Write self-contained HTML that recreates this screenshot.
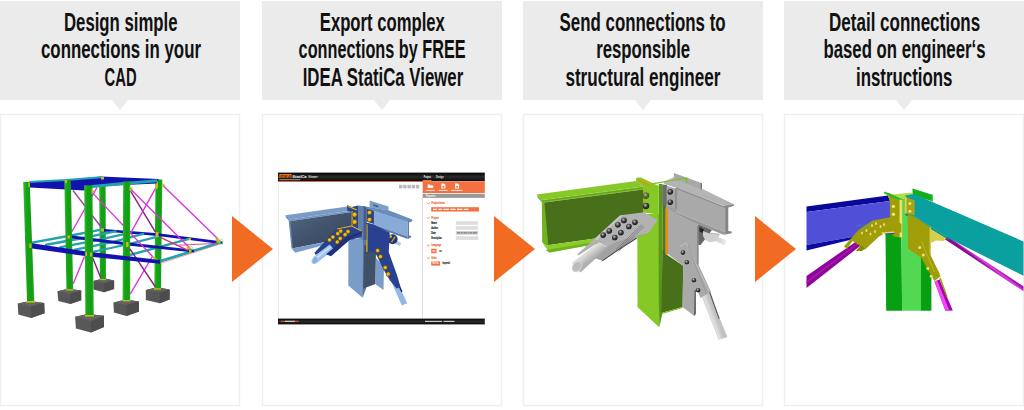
<!DOCTYPE html>
<html><head><meta charset="utf-8">
<style>
html,body{margin:0;padding:0;background:#fff;}
body{width:1024px;height:410px;overflow:hidden;font-family:"Liberation Sans",sans-serif;}
svg{display:block}
.h{font-family:"Liberation Sans",sans-serif;font-weight:bold;font-size:25px;fill:#111;text-anchor:start}
</style></head><body>
<svg width="1024" height="410" viewBox="0 0 1024 410">
<rect width="1024" height="410" fill="#fff"/>
<!-- headers -->
<g fill="#ebebeb">
<path d="M0 1H240V100H128L120 110L112 100H0Z"/>
<path d="M262 1H502V100H390L382 110L374 100H262Z"/>
<path d="M523 1H763V100H651L643 110L635 100H523Z"/>
<path d="M784 1H1024V100H912L904 110L896 100H784Z"/>
</g>
<!-- panels -->
<g fill="#fff" stroke="#efefef" stroke-width="1.5">
<rect x="0.5" y="114.5" width="239" height="291"/>
<rect x="262.5" y="114.5" width="239" height="291"/>
<rect x="523.5" y="114.5" width="239" height="291"/>
<rect x="784.5" y="114.5" width="239" height="291"/>
</g>
<!-- header text -->
<g class="h" lengthAdjust="spacingAndGlyphs">
<text x="64" y="31" textLength="113.5" lengthAdjust="spacingAndGlyphs">Design simple</text>
<text x="41" y="58" textLength="160" lengthAdjust="spacingAndGlyphs">connections in your</text>
<text x="104.6" y="86.3" textLength="32" lengthAdjust="spacingAndGlyphs">CAD</text>
<text x="319.8" y="31" textLength="125" lengthAdjust="spacingAndGlyphs">Export complex</text>
<text x="298.6" y="58" textLength="167" lengthAdjust="spacingAndGlyphs">connections by FREE</text>
<text x="302.7" y="86.3" textLength="160.5" lengthAdjust="spacingAndGlyphs">IDEA StatiCa Viewer</text>
<text x="559.6" y="31" textLength="166" lengthAdjust="spacingAndGlyphs">Send connections to</text>
<text x="596.2" y="58" textLength="94" lengthAdjust="spacingAndGlyphs">responsible</text>
<text x="565.4" y="86.3" textLength="155" lengthAdjust="spacingAndGlyphs">structural engineer</text>
<text x="829.1" y="31" textLength="151" lengthAdjust="spacingAndGlyphs">Detail connections</text>
<text x="823.5" y="58" textLength="162" lengthAdjust="spacingAndGlyphs">based on engineer‘s</text>
<text x="856" y="86.3" textLength="96.5" lengthAdjust="spacingAndGlyphs">instructions</text>
</g>
<!--P1S--><g id="p1">
<defs>
<linearGradient id="gcol" x1="0" x2="1" y1="0" y2="0">
<stop offset="0" stop-color="#35c035"/><stop offset="0.3" stop-color="#16a316"/><stop offset="0.75" stop-color="#169c16"/><stop offset="1" stop-color="#1db41d"/>
</linearGradient>
</defs>
<!-- back footings D,F,B,E -->
<g>
<path d="M93.4 281L103.8 278.3L114.1 280.5L114.1 289L103.8 292.3L93.4 289.5Z" fill="#555"/>
<path d="M93.4 281L103.8 278.3L114.1 280.5L103.8 283.5Z" fill="#606060"/>
<path d="M103.8 283.5L114.1 280.5L114.1 289L103.8 292.3Z" fill="#4c4c4c"/>
<path d="M145.8 290L157 287.3L169.6 289.5L169.6 299.5L159.8 303.3L145.8 300Z" fill="#565656"/>
<path d="M145.8 290L157 287.3L169.6 289.5L159.8 292.5Z" fill="#616161"/>
<path d="M159.8 292.5L169.6 289.5L169.6 299.5L159.8 303.3Z" fill="#4c4c4c"/>
</g>
<!-- back columns D,F -->
<path d="M99.1 177.3L105.6 177.3L106 280L99.9 280Z" fill="url(#gcol)"/>
<path d="M155.5 179.5L162.3 179.5L161 289.5L154.3 289.5Z" fill="url(#gcol)"/>
<!-- floor: back beam -->
<path d="M104 229L158 233.3L222.5 241.4L222.5 244.2L158 236L104 231.6Z" fill="#1212ae"/>
<!-- joists cyan -->
<g stroke="#22a2aa" stroke-width="2.3" fill="none">
<path d="M32 242.6L68.4 236L101.3 229.7"/>
<path d="M45 245L83 238L116.4 231.2"/>
<path d="M59.5 247.3L97.7 240.2L130.3 232.6"/>
<path d="M74 249.8L112.4 242.2L144.1 233.6"/>
<path d="M92 252L127 244.5L158.6 236.4"/>
<path d="M124.4 256.5L189.1 238.8" stroke-width="2.4"/>
<path d="M160.5 261.2L221 242.4" stroke-width="2.8"/>
</g>
<!-- mid beam -->
<path d="M68 235L128 242.5L194 249.8L194 252.6L128 245.4L68 238Z" fill="#1212ae"/>
<!-- back braces -->
<g stroke-width="1.35" fill="none">
<path d="M73 190.5L101.5 227.5" stroke="#a838a8"/>
<path d="M97 187.5L71.4 232.5" stroke="#e030e0"/>
<path d="M130.5 190.8L156.2 233.3" stroke="#8a1a80"/>
<path d="M155.5 188.3L130.5 233.3" stroke="#e030e0"/>
<path d="M163.5 185.9L218 239" stroke="#e030e0"/>
<path d="M161 237.6L188 250.4" stroke="#e0306a"/>
<path d="M176 245.3L217.5 243.4" stroke="#d838a8" stroke-width="0.9"/>
<path d="M160.5 263.5L220 244" stroke="#f08a8a" stroke-width="0.7"/>
<path d="M92.2 192.6L153.7 257.7" stroke="#e030e0"/>
</g>
<!-- top slab -->
<path d="M29 182L66 180.3L101 176.6L158.6 179L157.6 183.6L124 185L92 187L84.2 190.6L29.7 187.5Z" fill="#1212ae"/>
<g stroke="#22a2aa" fill="none">
<path d="M29.3 182L66 180L101 177.3" stroke-width="1.9"/>
<path d="M92 186.6L124 183.4L157.4 180.8" stroke-width="3"/>
</g>
<!-- back mid columns B,E with footings -->
<path d="M57.4 291.2L68.4 288.7L81.2 290.5L81.2 300.3L70.2 304L58.3 300.9Z" fill="#575757"/>
<path d="M57.4 291.2L68.4 288.7L81.2 290.5L70.2 294Z" fill="#626262"/>
<path d="M70.2 294L81.2 290.5L81.2 300.3L70.2 304Z" fill="#4d4d4d"/>
<path d="M64.3 180L70.8 180L73.2 290.5L66.5 290.5Z" fill="url(#gcol)"/>
<path d="M113.4 302.5L126 299.5L139 301.5L139 311.5L126.5 316L113.9 312.5Z" fill="#575757"/>
<path d="M113.4 302.5L126 299.5L139 301.5L126.5 305Z" fill="#626262"/>
<path d="M126.5 305L139 301.5L139 311.5L126.5 316Z" fill="#4d4d4d"/>
<path d="M123.2 181.6L130.2 181.6L130.2 301L122.6 301Z" fill="url(#gcol)"/>
<!-- mid braces -->
<g stroke-width="1.35" fill="none">
<path d="M130.5 189L190.3 248.6" stroke="#e030e0"/>
<path d="M84.5 256.5L73.2 283.8" stroke="#e030e0"/>
<path d="M92.8 258L100.7 277.7" stroke="#8a1a80"/>
<path d="M152 257L130.2 294.2" stroke="#e030e0"/>
<path d="M130 249L155.5 287" stroke="#8a1a80"/>
</g>
<!-- front beam floor -->
<path d="M30.5 243L88.5 251.8L160 260L160 263.8L88.5 256.6L30.5 248.2Z" fill="#1212ae"/>
<!-- front columns A,C with footings -->
<path d="M17.7 303.5L29.9 300.9L44.2 302.9L44.6 313.3L31.1 318L18.3 314.5Z" fill="#585858"/>
<path d="M17.7 303.5L29.9 300.9L44.2 302.9L31.1 306.6Z" fill="#636363"/>
<path d="M31.1 306.6L44.2 302.9L44.6 313.3L31.1 318Z" fill="#4e4e4e"/>
<path d="M23.2 182L29.7 182L34.4 302.8L27.1 302.8Z" fill="url(#gcol)"/>
<path d="M75.1 316.7L87.9 313.9L104 315.8L104 327L90.9 332.6L75.9 328.6Z" fill="#585858"/>
<path d="M75.1 316.7L87.9 313.9L104 315.8L90.9 321.2Z" fill="#636363"/>
<path d="M90.9 321.2L104 315.8L104 327L90.9 332.6Z" fill="#4e4e4e"/>
<path d="M84.2 185.3L92.4 185.3L93.75 316.6L85.4 316.6Z" fill="url(#gcol)"/>
<g fill="none" stroke="#58e058" stroke-width="0.5"><circle cx="220.5" cy="241.5" r="2.6"/><circle cx="190.5" cy="248.5" r="2.2"/><circle cx="163.5" cy="185.5" r="1.6"/><circle cx="131" cy="188.5" r="1.6"/></g>
<!-- gussets -->
<g fill="#c9b91e">
<rect x="28.3" y="182.5" width="1.6" height="4.5"/><rect x="65" y="180" width="2" height="3"/><rect x="101" y="177" width="3" height="2.5"/>
<path d="M91.5 189L94.5 191.5L91.5 194Z"/><path d="M129.8 186.5L132.5 188.5L129.8 191Z"/><path d="M155.8 184L158 181L158 188L155.5 190Z"/><path d="M162.3 183L165 185.5L162.3 187Z"/>
<rect x="29.3" y="243.5" width="2" height="4.5"/><rect x="67.5" y="235.5" width="2.5" height="3"/><rect x="101" y="228.5" width="3" height="3"/>
<rect x="85.5" y="252" width="1.5" height="4"/><rect x="90" y="252.5" width="2" height="4"/><rect x="126" y="242" width="2.5" height="5"/><rect x="155.5" y="232" width="3" height="5"/>
<path d="M152 256L158.5 259.5L153.5 259Z"/><path d="M186.5 245.5L192 249L187.5 249.5Z"/><path d="M215.5 237L221 240.8L219.5 243L216 241.5Z"/><rect x="188.5" y="237.8" width="2.4" height="2.2"/><path d="M186.5 245.5L192 249L187.5 249.5Z"/><rect x="189" y="250" width="2.5" height="2.6"/>
<rect x="26" y="301" width="9" height="1.6"/><rect x="85" y="315" width="9" height="1.6"/><rect x="66" y="289.3" width="7.5" height="1.3"/><rect x="122.5" y="300" width="8" height="1.4"/><rect x="100" y="279" width="6" height="1.2"/><rect x="154" y="288.3" width="7" height="1.3"/>
</g>
</g>
<!--P1E-->
<!--P2S--><g id="p2">
<defs>
<linearGradient id="gbar" x1="0" x2="0" y1="0" y2="1"><stop offset="0" stop-color="#050505"/><stop offset="0.5" stop-color="#2a2a2a"/><stop offset="1" stop-color="#0a0a0a"/></linearGradient>
<radialGradient id="gbolt" cx="0.4" cy="0.35" r="0.7"><stop offset="0" stop-color="#f5cf2a"/><stop offset="0.6" stop-color="#dcaa0c"/><stop offset="1" stop-color="#6b5208"/></radialGradient>
<linearGradient id="gtube" x1="0" x2="0" y1="0" y2="1"><stop offset="0" stop-color="#8db2df"/><stop offset="0.4" stop-color="#c2dbf6"/><stop offset="1" stop-color="#86abd9"/></linearGradient>
<linearGradient id="gweb2" x1="0" y1="0" x2="1" y2="1"><stop offset="0" stop-color="#52667f"/><stop offset="0.6" stop-color="#3e4f68"/><stop offset="1" stop-color="#37465d"/></linearGradient>
</defs>
<!-- window -->
<rect x="278" y="172.6" width="206.8" height="151.8" fill="#fff"/>
<rect x="278.2" y="181" width="0.8" height="138" fill="#e4e4e4"/>
<!-- right tube top (behind plate) -->
<path d="M396.6 240.8L401.2 243L399.8 246L395.4 244Z" fill="#a6c8ee"/>
<circle cx="392.6" cy="239.2" r="5" fill="#22357e"/>
<path d="M394.6 236.2L395.7 236.9L392 242.6L390.9 241.9Z" fill="#d8ab10"/>
<circle cx="390.4" cy="236.4" r="1.6" fill="#d8ab10"/>
<!-- model: back stub + right beam -->
<!-- right beam top flange -->
<path d="M363.5 206L365.4 206.6L388.5 210.2L412.3 219.4L412.3 220.6L407.7 222.3L373.3 210.9L363.5 208.5Z" fill="#6b8dbb"/>
<path d="M369.6 200.5L388.5 206.6L388.5 210.6L369.6 207.4Z" fill="#7d9ecb"/>
<path d="M373.3 204.2L378.2 205.8L378.2 207.4L373.3 205.8Z" fill="#42567a"/>
<!-- right beam web -->
<path d="M373.3 210.9L407.7 221.6L407.7 236.5L373.3 224.3Z" fill="#88aad7"/>
<path d="M407.7 221.6L412.3 220.2L412.3 221.2L409 222.6L409 235.3L411.1 236L411.1 237.6L407.7 238.9Z" fill="#5d7eab"/>
<!-- bottom flange right beam -->
<path d="M365.4 222.4L373.3 224.3L407.7 236.5L407.7 238.9L373.3 226.5L365.4 224.6Z" fill="#5f80ad"/>
<!-- column -->
<path d="M348.4 239L364.2 238L363.3 288.5L362.7 297.7L348.3 285.5Z" fill="#7a9cc9"/>
<path d="M363.2 206L366.2 207L366.2 288L362.7 297.7Z" fill="#5d7799"/>
<path d="M364.3 245L376 248L375.5 283.9L363.3 288.6Z" fill="#3f5069"/>
<path d="M375.9 258L384 266L383.5 290L375.5 284.2Z" fill="#7a9cc9"/>
<!-- right tube bottom -->
<path d="M389.5 277.5L394.5 276L407.3 303.2L401.8 305.6Z" fill="#93b8e6"/>
<path d="M394.8 278.5L396.4 278L402.5 291.5L401.3 292.2Z" fill="#16225e"/>
<!-- right gusset plate -->
<path d="M366.1 222.5L373.4 224.5L389.7 232.5L389.7 236L388.7 252L397 275L400.5 287L396.5 288.5L389.7 280L383.5 269.6L377 256L374.2 252L366.1 252.2Z" fill="#2a4090"/>
<path d="M366.2 224L367.6 224.3L367.6 252L366.2 251.8Z" fill="#d9ac12"/>
<!-- column top flange strip & plates -->
<path d="M358 205.5L363.5 206.2L363.5 240L358 238Z" fill="#6081af"/>
<path d="M363.5 206.2L366.6 207.5L366.6 240L363.5 240Z" fill="#465e85"/>
<path d="M366.6 208.7L373.9 210.9L373.9 224L366.6 221.6Z" fill="#2a4090"/>
<!-- left beam -->
<path d="M285.4 215.3L347.4 206.5L351.6 208L351.4 210.4L289.3 219.6Z" fill="#7a9bc8"/>
<path d="M285.4 215.3L289.3 219.6L289.3 221.2L285.9 217.2Z" fill="#5a7aa6"/>
<path d="M289.3 219.6L351.4 210.4L351.4 212L289.3 221.2Z" fill="#7393c0"/>
<path d="M289.3 221.2L351.8 212L351.8 236L325.2 242.1L292 248.4Z" fill="url(#gweb2)"/>
<path d="M288.7 220.6L290.3 221L292.8 247.6L291.4 247.6Z" fill="#6a89b4"/>
<path d="M288.9 245.4L292 248.4L325.5 242L330 243.5L295.3 252.8Z" fill="#7c9dcb"/>
<!-- end plate -->
<path d="M347.2 205L351.8 207L358 205.5L358 238L351.8 236.5L351.8 212L347.2 210.5Z" fill="#2b4494"/>
<path d="M348.4 205.8L356.8 209.3L356.6 210.5L348.2 207Z" fill="#e2b614"/>
<rect x="351.7" y="211" width="1" height="14.5" fill="#d9ac12"/>
<!-- left gusset upper plate -->
<path d="M336.9 228.6L351.8 226L361.8 231L361.8 236.5L352.5 239.5L345 240L333 249L328.6 246L315.9 255L314.4 252.8Z" fill="#2a4090"/>
<!-- left tube -->
<path d="M312.8 257.6L329.5 244.5L333.8 249.3L317 263Z" fill="#9dc1eb"/>
<path d="M313.5 258.8L330.5 245.8L331.8 247L315 260.6Z" fill="#c4dcf6"/>
<ellipse cx="314.9" cy="260.4" rx="2.9" ry="3.9" fill="#9fc2ec" transform="rotate(38 314.9 260.4)"/>
<ellipse cx="315.1" cy="260.3" rx="1.9" ry="2.8" fill="#86abd9" transform="rotate(38 315.1 260.3)"/>
<!-- lower plate -->
<path d="M326.1 254.3L347 236.5L352.5 235L361.8 231.5L361.8 233.5L352.5 237.5L331 256.3Z" fill="#1f3178"/>
<path d="M336.9 228.4L351.8 225.4L351.9 226.6L337 229.6Z" fill="#e2b614"/>
<path d="M351.8 225.4L361.3 230.2L360.9 231.3L351.6 226.6Z" fill="#e2b614"/>
<g fill="url(#gbolt)" stroke="#4a3a08" stroke-width="0.45">
<circle cx="354.7" cy="214.8" r="2.6"/><circle cx="354.7" cy="222.1" r="2.6"/>
<circle cx="369.6" cy="212.8" r="2.4"/><circle cx="369.6" cy="219.8" r="2.4"/>
<circle cx="340.8" cy="231.3" r="2.2"/><circle cx="348.1" cy="231.8" r="2.2"/><circle cx="337.9" cy="233.8" r="2.2"/><circle cx="345.2" cy="234.8" r="2.2"/>
<circle cx="333" cy="237.2" r="2.2"/><circle cx="340.3" cy="238.7" r="2.2"/><circle cx="329.6" cy="240.1" r="2.2"/><circle cx="337.4" cy="242.1" r="2.2"/>
<circle cx="377.8" cy="250.8" r="2.2"/><circle cx="380.6" cy="256.8" r="2.2"/><circle cx="385.3" cy="267.8" r="2.2"/><circle cx="388.3" cy="274.2" r="2.2"/>
</g>
<!-- view buttons -->
<g fill="#b9b9b9"><rect x="399" y="184.8" width="3.4" height="3.6"/><rect x="403.2" y="184.8" width="3.4" height="3.6"/><rect x="407.4" y="184.8" width="3.4" height="3.6"/><rect x="411.6" y="184.8" width="3.4" height="3.6"/><rect x="415.8" y="184.8" width="3.4" height="3.6"/></g>
<!-- title bar -->
<rect x="278" y="172.6" width="206.8" height="8.6" fill="url(#gbar)"/>
<rect x="278" y="181" width="145" height="0.8" fill="#d9532a"/>
<g font-family="Liberation Sans, sans-serif" font-weight="bold">
<rect x="279.3" y="174" width="12.2" height="4" fill="#e8720f"/>
<text transform="translate(280 177.5) scale(0.1)" font-size="42" fill="#5a2a00" font-style="italic" textLength="110" lengthAdjust="spacingAndGlyphs">IDEA</text>
<text transform="translate(292.3 177.6) scale(0.1)" font-size="42" fill="#f2f2f2" font-style="italic" textLength="144" lengthAdjust="spacingAndGlyphs">StatiCa</text>
<text transform="translate(308.2 177.6) scale(0.1)" font-size="33" fill="#e0e0e0" font-style="italic" textLength="94" lengthAdjust="spacingAndGlyphs">Viewer</text>
<rect x="279.3" y="179.3" width="21" height="0.9" fill="#c8c8c8" opacity="0.85"/>
<text transform="translate(423.7 178.4) scale(0.1)" font-size="27" fill="#ffffff" textLength="72" lengthAdjust="spacingAndGlyphs">Project</text>
<text transform="translate(436 178.4) scale(0.1)" font-size="27" fill="#eeeeee" textLength="76" lengthAdjust="spacingAndGlyphs">Design</text>
</g>
<rect x="422.9" y="180" width="8.6" height="1.6" fill="#f47040"/>
<!-- side panel -->
<rect x="422.2" y="181.4" width="0.8" height="137.3" fill="#d8d8d8"/>
<rect x="422.9" y="181.4" width="61.9" height="11.7" fill="#f47040"/>
<g fill="#fff">
<path d="M427.7 184.6H430L430.6 185.4H433.2V188.1H427.7Z"/>
<path d="M441.4 183.4H444L445.4 184.8V188.4H441.4Z"/>
<path d="M455.1 183.4H457.7L459.1 184.8V188.4H455.1Z"/>
</g>
<g fill="#f47040"><rect x="442.4" y="186" width="2" height="1.6"/><rect x="456.1" y="186" width="2" height="1.6"/></g>
<g font-family="Liberation Sans, sans-serif" font-weight="bold" fill="#fff">
<rect x="425.9" y="189.9" width="9" height="1" opacity="0.85"/>
<rect x="438.7" y="189.9" width="8.9" height="1" opacity="0.85"/>
<rect x="451" y="189.9" width="11.5" height="1" opacity="0.85"/>
</g>
<rect x="422.9" y="193.9" width="61.9" height="4" fill="#9a9a9a"/>
<g font-family="Liberation Sans, sans-serif" font-weight="bold">
<text transform="translate(426 196.9) scale(0.1)" font-size="27" fill="#fff" textLength="97" lengthAdjust="spacingAndGlyphs">Properties</text>
<g fill="#f26a3a" stroke="#f26a3a" stroke-width="1.6">
<text transform="translate(431.4 204.2) scale(0.1)" font-size="28" textLength="134" lengthAdjust="spacingAndGlyphs">Project items</text>
<text transform="translate(431.4 219.1) scale(0.1)" font-size="28" textLength="74" lengthAdjust="spacingAndGlyphs">Project</text>
<text transform="translate(431.4 246.4) scale(0.1)" font-size="28" textLength="98" lengthAdjust="spacingAndGlyphs">Language</text>
<text transform="translate(431.4 259.1) scale(0.1)" font-size="28" textLength="53" lengthAdjust="spacingAndGlyphs">Units</text>
</g>
<g fill="#222" stroke="#222" stroke-width="1.4">
<text transform="translate(431.2 224) scale(0.1)" font-size="27" textLength="56" lengthAdjust="spacingAndGlyphs">Name</text>
<text transform="translate(431.2 228.9) scale(0.1)" font-size="27" textLength="68" lengthAdjust="spacingAndGlyphs">Author</text>
<text transform="translate(431.2 233.8) scale(0.1)" font-size="27" textLength="46" lengthAdjust="spacingAndGlyphs">Date</text>
<text transform="translate(431.2 238.7) scale(0.1)" font-size="27" textLength="106" lengthAdjust="spacingAndGlyphs">Description</text>
<text transform="translate(439.2 252) scale(0.1)" font-size="27" fill="#444" textLength="24" lengthAdjust="spacingAndGlyphs">cz</text>
<text transform="translate(442.4 264.4) scale(0.1)" font-size="27" fill="#444" textLength="76" lengthAdjust="spacingAndGlyphs">Imperial</text>
</g>
</g>
<g fill="none" stroke="#f47040" stroke-width="0.7">
<path d="M427 202.4L428.3 204L429.6 202.4"/><path d="M427 217.3L428.3 218.9L429.6 217.3"/><path d="M427 244.7L428.3 246.3L429.6 244.7"/><path d="M427 257.4L428.3 259L429.6 257.4"/>
</g>
<g fill="#f47040">
<rect x="431.2" y="207.2" width="47.8" height="4.3"/>
<rect x="431.2" y="248.8" width="5.3" height="4.4"/>
<rect x="431.2" y="261.4" width="8.8" height="4.2"/>
</g>
<g font-family="Liberation Sans, sans-serif" font-weight="bold" fill="#fff">
<g opacity="0.9"><rect x="433" y="208.7" width="4" height="1.3"/><rect x="438.2" y="208.7" width="4" height="1.3"/><rect x="443.4" y="208.7" width="5.5" height="1.3"/><rect x="450.2" y="208.7" width="5.5" height="1.3"/><rect x="457" y="208.7" width="5.5" height="1.3"/><rect x="463.8" y="208.7" width="4.7" height="1.3"/></g>
<text transform="translate(432.4 251.9) scale(0.1)" font-size="27" textLength="29" lengthAdjust="spacingAndGlyphs">en</text>
<text transform="translate(432.6 264.3) scale(0.1)" font-size="27" textLength="60" lengthAdjust="spacingAndGlyphs">Metric</text>
</g>
<g fill="#dedede"><rect x="455.8" y="221.2" width="22.4" height="3.7"/><rect x="455.8" y="226.1" width="22.4" height="3.7"/><rect x="455.8" y="231" width="22.4" height="3.7" fill="#cfcfcf"/><rect x="455.8" y="236.2" width="22.4" height="3.7"/></g>
<g fill="#888"><rect x="457" y="232.1" width="3.2" height="1.5"/><rect x="460.8" y="232.1" width="2" height="1.5"/><rect x="463.4" y="232.1" width="3.4" height="1.5"/><rect x="467.4" y="232.1" width="2" height="1.5"/><rect x="470" y="232.1" width="2" height="1.5"/><rect x="472.6" y="232.1" width="4.4" height="1.5"/></g>
<!-- bottom bar -->
<rect x="278" y="318.6" width="206.8" height="5.8" fill="url(#gbar)"/>
<g font-family="Liberation Sans, sans-serif" font-weight="bold">
<rect x="280.5" y="320.7" width="4.5" height="1.2" fill="#d8581f"/><rect x="285" y="320.7" width="10" height="1.2" fill="#ddd"/><rect x="295" y="320.7" width="3.8" height="1.2" fill="#d8581f"/>
<rect x="425" y="320.8" width="17" height="1.2" fill="#ccc"/><rect x="443.5" y="320.8" width="11" height="1.2" fill="#ccc"/>
</g>
</g>
<!--P2E-->
<!--P3S--><g id="p3">
<defs>
<radialGradient id="gbolt3" cx="0.4" cy="0.35" r="0.75"><stop offset="0" stop-color="#bdbdbd"/><stop offset="0.45" stop-color="#3a3a3a"/><stop offset="0.8" stop-color="#1e1e1e"/><stop offset="1" stop-color="#8a8a8a"/></radialGradient>
<linearGradient id="gtube3" gradientUnits="userSpaceOnUse" x1="585" y1="248" x2="593" y2="258"><stop offset="0" stop-color="#c2c2c2"/><stop offset="0.4" stop-color="#dedede"/><stop offset="1" stop-color="#b0b0b0"/></linearGradient>
<linearGradient id="gtube3b" gradientUnits="userSpaceOnUse" x1="708" y1="320" x2="716" y2="317"><stop offset="0" stop-color="#c4c4c4"/><stop offset="0.5" stop-color="#e0e0e0"/><stop offset="1" stop-color="#c2c2c2"/></linearGradient>
</defs>
<!-- lug & tube end under right beam -->
<path d="M698 224L712 230L706 238L700.5 245L698 245Z" fill="#666"/>
<path d="M699.5 227L704 229.5L702.5 233L699.5 231.5Z" fill="#222"/>
<path d="M714 235.5L725.5 240.2L723.8 244.6L712.5 240Z" fill="#d8d8d8"/>
<ellipse cx="723.6" cy="242.2" rx="2.2" ry="2.9" fill="#e6e6e6" transform="rotate(22 723.6 242.2)"/>
<path d="M703 231L709.5 233.5L719.5 234.5C719 239.5 714 242.8 709.5 242C706.5 241.5 704.5 239 703 236Z" fill="#cfcfcf"/>
<path d="M709 233.2L719.8 234.2" stroke="#8a8a8a" stroke-width="0.6"/>
<!-- right beam -->
<path d="M664.2 181.5L673.9 177.2L702 188.8L733.9 204.2L733.9 205.6L727.6 207.3L676 187.8L664.2 184Z" fill="#b4b4b4"/>
<path d="M673.9 172.9L702 183.3L702 189.5L673.9 179Z" fill="#a8a8a8"/>
<path d="M700.6 182.8L702 183.3L702 189.5L700.6 189Z" fill="#777"/>
<path d="M721.5 206.4L733.9 204.4L733.9 205.8L728.3 207.5L728.3 231L731.7 231.4L731.7 233.2L723.7 234.8L725.1 232.3L725.1 207.2Z" fill="#858585"/>
<path d="M676 187.6L725.1 206.8L725.1 232.3L676 212Z" fill="#a9a9a9"/>
<path d="M676 187.6L725.1 206.8L725.1 208L676 188.8Z" fill="#8c8c8c"/>
<path d="M663 204.5L676 212L725.1 232.3L723.7 234.8L690 221.3L663 207.2Z" fill="#979797"/>
<!-- column far flange top line -->
<path d="M652 183.3L687.4 177.2L687.4 183L685.6 183L685.6 178.8L652 184.6Z" fill="#7cc122"/>
<path d="M663 204L676.4 208.5L676.4 214L663 207Z" fill="#9e9e9e"/>
<!-- column: left flange -->
<path d="M637.3 214L657.5 214L659.4 214L659.4 327.1L658.8 327.1L637.5 307Z" fill="#86c926"/>
<path d="M658.7 184L662.5 184L662.5 313L659.4 327.1L658.7 300Z" fill="#5a961c"/>
<path d="M662.5 186L665.8 186L665.8 254L662.5 254Z" fill="#4a7a18"/>
<!-- column web lower -->
<path d="M662.5 250L666.2 254.2L683.2 265.8L682.6 307L661.3 313.1Z" fill="#48701a"/>
<path d="M661.3 313.1L682.6 307L682.6 308L661.3 314.2Z" fill="#7cc122"/>
<!-- right tube bottom -->
<path d="M700.3 293L708 289.5L727.4 337.1L718.6 340Z" fill="url(#gtube3b)"/>
<path d="M708.2 290L709.4 289.6L719.6 318.4L718.6 318.8Z" fill="#555"/>
<!-- right gusset plate -->
<path d="M666 207.5L678.8 215L698.4 224.5L698.4 264.5L710.9 291.6L700.6 298L697.4 291L695.6 290L695.6 314L694.2 316.1L682.6 307L683.2 265.8L668.1 254.2L666 254.2Z" fill="#a9a9a9"/>
<path d="M694.6 290L695.8 290L695.8 314L694.2 316.1Z" fill="#555"/>
<path d="M697.3 226L698.4 226.5L698.4 264.5L697.3 264.5Z" fill="#7d7d7d"/>
<path d="M680 246.5L686 242.8L709 291" stroke="#c4c4c4" stroke-width="0.8" fill="none"/>
<path d="M688 246L706.5 293.5" stroke="#8c8c8c" stroke-width="0.6" fill="none"/>
<rect x="665.6" y="208.7" width="2.4" height="45.5" fill="#f08a10"/>
<!-- column dark top between plates -->
<path d="M662.5 184.5L667 185L667 205.5L662.5 206Z" fill="#6c6c6c"/>
<!-- bolted plate right -->
<path d="M666.6 185.8L676.4 188.7L676.4 209L666.6 206.6Z" fill="#a6a6a6"/>
<path d="M675.6 188.5L676.4 188.7L676.4 209L675.6 208.8Z" fill="#6e6e6e"/>
<!-- left beam -->
<path d="M536.7 194.5L636.2 181.1L643 186.6L541.6 200Z" fill="#86c926"/>
<path d="M536.7 194.5L541.6 200L542.2 202.8L537.8 197.5Z" fill="#6aa81c"/>
<path d="M541.6 200L643 186.6L643 189.4L542.2 202.8Z" fill="#7dbf22"/>
<path d="M541.6 201.3L643 187.9" stroke="#4f8a14" stroke-width="0.6" fill="none"/>
<path d="M542.2 202.8L643 189.4L643 232L605.7 237L545.9 245.5Z" fill="#48701a"/>
<path d="M541.8 202.5L544.4 202.4L548.3 245.2L545.9 245.5L542.2 242.3Z" fill="#72b222"/>
<path d="M542 242.3L545.9 245.5L605 237L600 243.5L549.5 252.4Z" fill="#8bce2a"/>
<path d="M545.5 250L598 241.5L597 243.6L549.5 252.4Z" fill="#6fb01e"/>
<!-- end plate -->
<path d="M636.1 177.8L641 177.4L658.7 186L658.7 214.5L643 212.5L643 186.6L636.2 181.2Z" fill="#86c926"/>
<path d="M638 179.2L649.6 184.6L649 186L637.5 180.6Z" fill="#f08a10"/>
<path d="M643.5 189.5L644.5 189.5L644.5 212L643.5 212Z" fill="#e0901a" opacity="0.85"/>
<!-- left fork upper plate + gusset -->
<path d="M620.3 215.3L644.1 212.2L657.5 220.3L648.3 233.1L636 236L615.5 250.4L603.2 259.6L601.9 260.4L595 258L607 247L599 242L578.5 255.5L577.5 254L594.7 238.8Z" fill="#b2b2b2"/>
<path d="M594.7 238.8L620.3 215.3L622 216L597 240.3Z" fill="#c6c6c6"/>
<!-- tube left -->
<path d="M572.1 262.8L599 242.3L607.7 247.7L580.4 272.4Z" fill="url(#gtube3)"/>
<ellipse cx="577" cy="266.6" rx="4.6" ry="6.2" fill="#d2d2d2" transform="rotate(38 577 266.6)"/>
<ellipse cx="577" cy="266.6" rx="3.4" ry="5" fill="#bcbcbc" transform="rotate(38 577 266.6)"/>
<!-- lower fork plate -->
<path d="M595 258L609.6 245.5L616 242L636 236L648.3 233.1L636.5 237.5L615.5 251L601.9 260.4Z" fill="#a2a2a2"/>
<path d="M601.9 260.4L615.5 251L636.5 237.5L637 238.4L616 252L602.6 261.2Z" fill="#3f3f3f"/>
<path d="M641.7 224.6L616 249.7M642.9 225.6L617.2 250.7M644.1 226.6L618.4 251.7" stroke="#5a5a5a" stroke-width="0.5" fill="none"/>
<g fill="url(#gbolt3)">
<circle cx="646" cy="195.8" r="3.3"/><circle cx="646" cy="206.1" r="3.3"/>
<circle cx="670.3" cy="191.9" r="2.8"/><circle cx="670.3" cy="202.2" r="2.8"/>
<circle cx="624" cy="220.5" r="2.9"/><circle cx="635" cy="222.3" r="2.9"/><circle cx="617.9" cy="224.8" r="2.9"/><circle cx="628.9" cy="226.6" r="2.9"/>
<circle cx="609.3" cy="230.9" r="2.9"/><circle cx="620.9" cy="232.7" r="2.9"/><circle cx="603.2" cy="235.1" r="2.9"/><circle cx="614.8" cy="237.6" r="2.9"/>
<circle cx="683" cy="252.6" r="2.3"/><circle cx="686.9" cy="262.3" r="2.3"/><circle cx="694" cy="280.2" r="2.3"/><circle cx="698.1" cy="290.2" r="2.3"/>
</g>
<circle cx="646" cy="195.8" r="3.4" fill="#86c926" opacity="0.35"/>
</g>
<!--P3E-->
<!--P4S--><g id="p4">
<defs>
<linearGradient id="grod4" gradientUnits="userSpaceOnUse" x1="975" y1="258" x2="978" y2="254"><stop offset="0" stop-color="#8a0a92"/><stop offset="0.5" stop-color="#e040e8"/><stop offset="1" stop-color="#a010a8"/></linearGradient>
<clipPath id="clip4"><rect x="785" y="115" width="238.5" height="290"/></clipPath>
</defs>
<g clip-path="url(#clip4)">
<!-- green stub back -->
<path d="M912.5 188.5L933 194.9L933 201.5L912.5 195Z" fill="#10b01c"/>
<path d="M931.8 194.5L933 194.9L933 201.5L931.8 201.1Z" fill="#30d83a"/>
<!-- column cap -->
<path d="M892 194.6L912.5 192.6L912.5 196L902 200.4Z" fill="#b4dc50"/>
<!-- right purple rod -->
<path d="M944.8 239.2L947.4 236.4L1026 288L1026 293Z" fill="url(#grod4)"/>
<!-- lug at rod -->
<path d="M931 229L946.5 237.5L944 241L936 240.5L931 243Z" fill="#d6cf48"/>
<!-- column -->
<path d="M885.5 232L901.4 232L902.1 310.8L886.2 310.8Z" fill="#06a012"/>
<path d="M901.4 199L908 199L921.5 250L921 310.8L902.1 310.8Z" fill="#52d852"/>
<path d="M921 256L931.4 268L931.4 310.8L921 310.8Z" fill="#06a012"/>
<!-- cyan beam -->
<path d="M905.5 195.6L913.9 194.1L1026 242.5L1026 277L947.9 238L915.4 217L905.5 213.2Z" fill="#0aa0a0"/>
<path d="M905.5 213.2L915.4 217L947.9 238L950 240.5L915 219.5L905.5 215.2Z" fill="#078488"/>
<!-- big olive plate right -->
<path d="M907.6 214L915.4 217.5L930.7 227.5L930.7 255.5L938.6 271.4L940.5 276.5L934.5 281L929 272L921.5 258L908 248.8Z" fill="#a09e08"/>
<path d="M929.6 227L930.9 227.6L930.9 255.5L929.6 253Z" fill="#d8d050"/>
<path d="M921.5 241.5L934.5 272" stroke="#c0bc30" stroke-width="0.8" fill="none"/>
<!-- small magenta rod bottom right -->
<path d="M934.5 281.5L939.6 279.5L952.8 310.4L945.4 310.8Z" fill="#a404ac"/>
<path d="M934.5 281.5L937.2 280.5L949.4 310.6L945.4 310.8Z" fill="#f048f4"/>
<path d="M939.3 278.4L940.8 277.8L947.6 296.4L946.4 296.9Z" fill="#a09e08"/>
<!-- plate on cyan beam -->
<path d="M904.7 196.6L914.7 200.5L914.7 215.4L904.7 213Z" fill="#a8a416"/>
<path d="M904.7 196.6L906.6 197.3L906.6 213.5L904.7 213Z" fill="#d9d252"/>
<!-- blue beam -->
<path d="M806.5 206.4L887.9 195.4L889.9 200.9L806.5 211.9Z" fill="#08089a"/>
<path d="M806.5 211.9L889.9 200.9L890.5 222L872 230L854.9 236.6L806.5 245.1Z" fill="#4f4fd8"/>
<path d="M806.5 245.1L854.9 236.6L858 238L806.5 250.6Z" fill="#0a0aa2"/>
<!-- end plate olive -->
<path d="M884.2 192.3L889.9 193.2L901.4 199.5L901.4 238L893 236L889.9 224L889.9 200.9L887.9 195.4Z" fill="#a09e08"/>
<path d="M884.4 191.6L902.2 199L901.8 201L884 193.4Z" fill="#18c028"/>
<path d="M899.6 199.2L902.2 200.2L902.2 237.5L899.6 237Z" fill="#ebe468"/>
<!-- purple tube left -->
<path d="M806.5 275.9L859.8 239L863.5 243.3L806.5 288.1Z" fill="#8f0499"/>
<path d="M806.5 281L861 240.5L861.8 241.5L806.5 283.5Z" fill="#a418ae"/>
<!-- gusset left olive -->
<path d="M890.3 217.2L901.4 224L901.4 232.5L885.4 233L879 236.5L866 248.7L861.5 251L856 250.9L860.5 246L852.5 241L847.2 248.7L843.9 246.5L858.5 230L872.5 220.5Z" fill="#a09e08"/>
<path d="M856.2 250.6L861 245.5L865 248L861.5 251Z" fill="#8a8806"/>
<path d="M881 232.6L894.5 231.5L894.5 233.2L882 234.3Z" fill="#e6e060"/>
<path d="M885 233.6L894.5 232.8L894.5 234L885.5 234.6Z" fill="#4040d0"/>
<path d="M855 226L872 223.5L860 232" stroke="#3a9ab0" stroke-width="0.5" fill="none" opacity="0.8"/>
<path d="M861 236L889 218" stroke="#d06030" stroke-width="0.4" fill="none"/>
<g fill="#ebe572">
<circle cx="893.4" cy="206.4" r="1.7"/><circle cx="893.4" cy="214.3" r="1.7"/>
<circle cx="909.9" cy="203.4" r="1.5"/><circle cx="909.9" cy="211.2" r="1.5"/>
<ellipse cx="872" cy="225.5" rx="0.9" ry="1.6"/><ellipse cx="876" cy="223.5" rx="0.9" ry="1.6"/><ellipse cx="880.5" cy="226.5" rx="0.9" ry="1.6"/><ellipse cx="884" cy="224.5" rx="0.9" ry="1.6"/>
<ellipse cx="862" cy="233" rx="0.9" ry="1.6"/><ellipse cx="866.5" cy="230.5" rx="0.9" ry="1.6"/><ellipse cx="870.5" cy="234" rx="0.9" ry="1.6"/><ellipse cx="875" cy="231.5" rx="0.9" ry="1.6"/>
<circle cx="919.7" cy="247.6" r="1.5"/><circle cx="923.3" cy="254.9" r="1.5"/><circle cx="927.8" cy="268.4" r="1.5"/><circle cx="931.2" cy="276.2" r="1.5"/>
</g>
</g>
</g>
<!--P4E-->
<!-- arrows -->
<g fill="#f26b22">
<path d="M232 216L273 249L232 282Z"/>
<path d="M494 216L535 249L494 282Z"/>
<path d="M755 216L796 249L755 282Z"/>
</g>
</svg>
</body></html>
